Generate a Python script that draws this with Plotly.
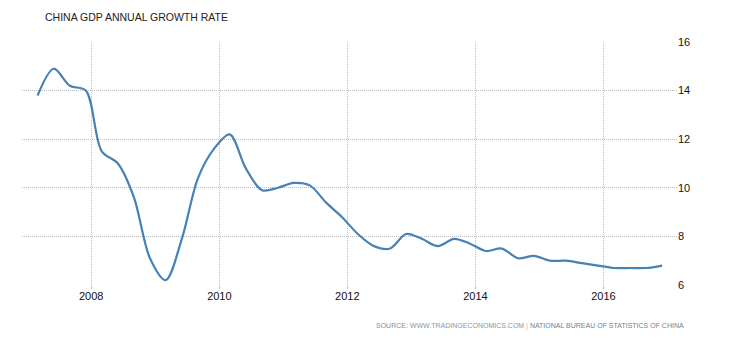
import pandas as pd
import plotly.graph_objects as go

# Quarterly observations, Q1 2007 .. Q4 2016
quarters = pd.date_range("2007-03-01", periods=40, freq="3MS")
gdp_growth = [
    13.8, 14.9, 14.2, 14.0,
    11.5, 11.0, 9.6, 7.1,
    6.2, 7.9, 10.4, 11.6,
    12.2, 10.8, 9.9, 10.0,
    10.2, 10.1, 9.4, 8.8,
    8.1, 7.6, 7.5, 8.1,
    7.9, 7.6, 7.9, 7.7,
    7.4, 7.5, 7.1, 7.2,
    7.0, 7.0, 6.9, 6.8,
    6.7, 6.7, 6.7, 6.8,
]
y_ticks = [6, 8, 10, 12, 14, 16]

title_text = "CHINA GDP ANNUAL GROWTH RATE"
source_text = ("<span style='color:#8a8a8a'>SOURCE: </span>"
               "<span style='color:#8796ab'>WWW.TRADINGECONOMICS.COM</span>"
               "<span style='color:#c8b08a'> | </span>"
               "<span style='color:#6f7f98'>NATIONAL BUREAU OF STATISTICS OF CHINA</span>")

FONT = "Liberation Sans, Arial, sans-serif"
GRID = "#bdbdbd"

fig = go.Figure()
fig.add_trace(go.Scatter(
    x=quarters, y=gdp_growth, mode="lines",
    line=dict(color="#4682b4", width=2.2, shape="spline", smoothing=0.9),
    hoverinfo="x+y", showlegend=False,
))

fig.update_layout(
    width=730, height=340,
    margin=dict(l=22, r=53, t=42, b=55),
    paper_bgcolor="white", plot_bgcolor="white",
    font=dict(family=FONT, size=11, color="#111"),
    title=dict(text=title_text, x=45 / 730, xanchor="left",
               y=1 - 17 / 340, yanchor="middle",
               font=dict(family=FONT, size=10.5, color="#222")),
    xaxis=dict(
        type="date",
        range=["2006-12-02", "2017-02-24"],
        tick0="2008-01-01", dtick="M24", tickformat="%Y",
        showgrid=True, gridcolor=GRID, griddash="1px,1px", gridwidth=1,
        ticks="outside", ticklen=3, tickcolor=GRID,
        ticklabelstandoff=-2,
        showline=False, zeroline=False,
        tickfont=dict(size=11, color="#111"),
    ),
    yaxis=dict(
        side="right",
        range=[6, 16],
        tickvals=y_ticks,
        showgrid=True, gridcolor=GRID, griddash="1px,1px", gridwidth=1,
        ticks="", showline=False, zeroline=False,
        tickfont=dict(size=11, color="#111"),
    ),
    annotations=[dict(
        text=source_text, xref="paper", yref="paper",
        x=(686 - 22) / 655, xanchor="right",
        y=(285 - 325.7) / 243, yanchor="middle",
        showarrow=False, font=dict(family=FONT, size=7),
    )],
)

fig.write_html("out.html")
